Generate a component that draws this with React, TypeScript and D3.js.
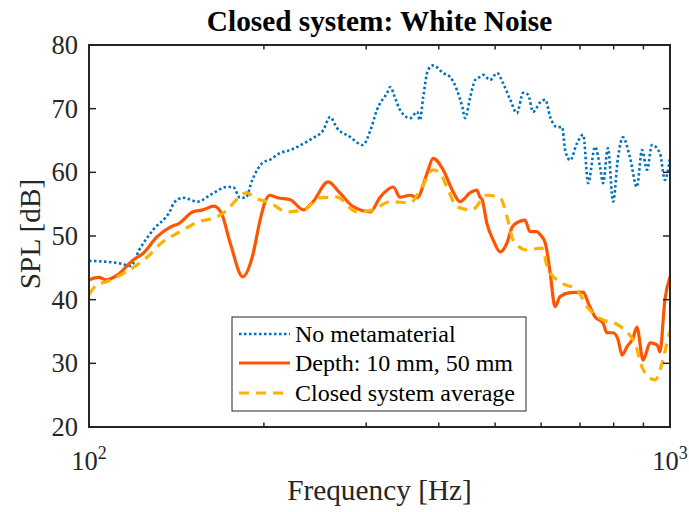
import React from "react";
import * as d3 from "d3";

// ---- Data ----
const noMetaFreq = [100, 113, 118, 122, 129, 138, 140, 145, 154, 162, 173, 177, 182, 186, 191, 199, 205, 213, 222, 237, 243, 253, 260, 267, 281, 296, 305, 313, 326, 330, 336, 343, 357, 367, 371, 376, 383, 391, 407, 418, 430, 439, 444, 453, 462, 471, 477, 490, 504, 516, 531, 545, 559, 570, 581, 598, 610, 622, 639, 652, 660, 673, 692, 709, 723, 743, 758, 767, 782, 798, 814, 830, 853, 877, 895, 913, 931, 961, 980, 1000];
const noMetaSPL = [46.1, 45.7, 45.3, 47.8, 51, 54, 55.2, 56, 55.4, 56.5, 57.7, 57.7, 56, 56, 58.8, 61.5, 62, 63, 63.5, 64.8, 65.4, 66.6, 68.7, 67, 65.6, 64.3, 66.6, 69.8, 72.5, 73.4, 71.8, 69.8, 68.5, 69.5, 68.2, 71.8, 76, 76.8, 75.6, 75, 72.9, 70.3, 68.5, 71.8, 74.5, 75, 75.3, 74.5, 75.6, 74, 71.4, 69.3, 72.5, 72.2, 69.5, 71, 71.4, 68.7, 67.1, 67.1, 63.5, 61.9, 64.6, 65.9, 58.3, 64, 60.8, 58.3, 63.8, 55.4, 62.4, 65.5, 62.4, 57.7, 63.5, 60.4, 64.3, 63, 58.8, 62.3];

const depthFreq = [100, 104, 107, 112, 119, 124, 131, 138, 143, 151, 157, 164, 169, 175, 184, 191, 197, 201, 205, 211, 222, 234, 243, 258, 270, 285, 305, 317, 334, 343, 357, 367, 382, 391, 407, 422, 435, 453, 465, 471, 475, 484, 496, 510, 524, 535, 548, 563, 574, 590, 598, 610, 622, 634, 647, 673, 709, 723, 743, 767, 779, 798, 814, 827, 843, 864, 877, 899, 924, 950, 961, 980, 1000];
const depthSPL = [43.1, 43.5, 43.1, 43.9, 46.2, 47.3, 49.9, 51.4, 52, 53.8, 54.1, 54.7, 53.6, 48.9, 43.6, 46.7, 52.5, 55.4, 56.4, 56, 55.7, 54.1, 55.4, 58.5, 56.8, 54.6, 53.8, 56.1, 57.7, 56.1, 56.4, 56, 59.9, 62.2, 60.4, 57.2, 55.4, 56.8, 57.2, 56.1, 55.7, 52, 49.4, 47.5, 48.9, 51.4, 52.2, 52.5, 50.7, 50.7, 50.2, 48.9, 44.2, 38.9, 40.5, 41.1, 41.2, 39.5, 37.3, 36.3, 34.8, 34.8, 33.7, 31.3, 32.6, 34, 35.7, 30.5, 33.2, 32.9, 31.8, 40, 43.6];

const avgFreq = [100, 103, 107, 116, 126, 134, 143, 154, 166, 173, 178, 187, 192, 205, 219, 234, 250, 267, 289, 308, 330, 357, 374, 391, 402, 413, 430, 456, 484, 510, 526, 537, 567, 602, 617, 652, 692, 720, 767, 804, 843, 870, 899, 942, 969, 988, 1000];
const avgSPL = [40.8, 42.3, 42.8, 44.4, 46.7, 49.1, 50.6, 52.2, 53, 54.1, 55.4, 56.8, 56.1, 55.2, 53.8, 54.1, 56, 56.1, 53.8, 54.1, 55.4, 55.2, 57.7, 60.4, 59.9, 57.7, 54.6, 54.1, 56.4, 56, 52.5, 49.4, 47.8, 48.1, 44.7, 42.6, 41.5, 38.9, 36.8, 36.3, 34.9, 33.2, 29, 27.4, 30, 33.2, 35];

const yTicks = [20, 30, 40, 50, 60, 70, 80];
const xMajorTicks = [100, 1000];
const xMajorLabels = ["2", "3"];
const xMinorTicks = [200, 300, 400, 500, 600, 700, 800, 900];

const seriesNames = ["No metamaterial", "Depth: 10 mm, 50 mm", "Closed system average"];

const W = 689, H = 512;
const L = 89, R = 670, T = 45, B = 427;
const AX = "#262626";
const BLUE = "#0072BD";
const ORANGE = "#FF5500";
const YELLOW = "#FFB100";
const SERIF = "'Liberation Serif', 'Times New Roman', serif";

export default function App() {
  const x = d3.scaleLog().domain([100, 1000]).range([L, R]);
  const y = d3.scaleLinear().domain([20, 80]).range([B, T]);
  const line = d3
    .line<[number, number]>()
    .x((d) => x(d[0]))
    .y((d) => y(d[1]))
    .curve(d3.curveMonotoneX);

  const zip = (f: number[], v: number[]) => f.map((ff, i) => [ff, v[i]] as [number, number]);

  const majorLen = 7;
  const minorLen = 4.5;

  const legendX = 232, legendY = 317, legendW = 294, legendH = 94;
  const rowY = [334, 363, 393];
  const styles = [
    { stroke: BLUE, dash: "2.5,2.5", width: 2.6 },
    { stroke: ORANGE, dash: "", width: 3.2 },
    { stroke: YELLOW, dash: "10,7", width: 3.2 },
  ];
  const data = [zip(noMetaFreq, noMetaSPL), zip(depthFreq, depthSPL), zip(avgFreq, avgSPL)];
  const drawOrder = [0, 1, 2];

  return (
    <svg width={W} height={H} style={{ position: "absolute", left: 0, top: 0, background: "#fff" }}>
      <rect x={0} y={0} width={W} height={H} fill="#fff" />
      <defs>
        <clipPath id="plotclip">
          <rect x={L} y={T} width={R - L} height={B - T} />
        </clipPath>
      </defs>

      <g clipPath="url(#plotclip)">
        {drawOrder.map((i) => (
          <path
            key={"s" + i}
            d={line(data[i]) || ""}
            fill="none"
            stroke={styles[i].stroke}
            strokeWidth={styles[i].width}
            strokeDasharray={styles[i].dash || undefined}
            strokeLinejoin="round"
          />
        ))}
      </g>

      {/* axes box */}
      <rect x={L} y={T} width={R - L} height={B - T} fill="none" stroke={AX} strokeWidth={2} />

      {/* y ticks */}
      {yTicks.map((t) => (
        <g key={"y" + t}>
          <line x1={L} x2={L + majorLen} y1={y(t)} y2={y(t)} stroke={AX} strokeWidth={1.5} />
          <line x1={R} x2={R - majorLen} y1={y(t)} y2={y(t)} stroke={AX} strokeWidth={1.5} />
          <text x={L - 11} y={y(t)} dy="0.34em" textAnchor="end" fontFamily={SERIF} fontSize={26.5} fill={AX}>
            {t}
          </text>
        </g>
      ))}

      {/* x minor ticks */}
      {xMinorTicks.map((t) => (
        <g key={"xm" + t}>
          <line x1={x(t)} x2={x(t)} y1={B} y2={B - minorLen} stroke={AX} strokeWidth={1.5} />
          <line x1={x(t)} x2={x(t)} y1={T} y2={T + minorLen} stroke={AX} strokeWidth={1.5} />
        </g>
      ))}

      {/* x major tick labels */}
      {xMajorTicks.map((t, i) => (
        <text key={"xl" + t} x={x(t)} y={470} textAnchor="middle" fontFamily={SERIF} fontSize={26.5} fill={AX}>
          10
          <tspan fontSize={18} dy={-11}>
            {xMajorLabels[i]}
          </tspan>
        </text>
      ))}

      {/* title */}
      <text x={(L + R) / 2} y={31} textAnchor="middle" fontFamily={SERIF} fontWeight="bold" fontSize={29.3} fill="#000">
        Closed system: White Noise
      </text>

      {/* axis labels */}
      <text x={(L + R) / 2} y={500} textAnchor="middle" fontFamily={SERIF} fontSize={29.3} fill={AX}>
        Frequency [Hz]
      </text>
      <text
        transform={`translate(40, ${(T + B) / 2 - 2}) rotate(-90)`}
        textAnchor="middle"
        fontFamily={SERIF}
        fontSize={29.3}
        fill={AX}
      >
        SPL [dB]
      </text>

      {/* legend */}
      <rect x={legendX} y={legendY} width={legendW} height={legendH} fill="#fff" stroke={AX} strokeWidth={1} />
      {seriesNames.map((name, i) => (
        <g key={name}>
          <line
            x1={239}
            x2={290}
            y1={rowY[i]}
            y2={rowY[i]}
            stroke={styles[i].stroke}
            strokeWidth={styles[i].width}
            strokeDasharray={styles[i].dash || undefined}
          />
          <text x={295} y={rowY[i]} dy="0.34em" fontFamily={SERIF} fontSize={24} fill="#000">
            {name}
          </text>
        </g>
      ))}
    </svg>
  );
}
